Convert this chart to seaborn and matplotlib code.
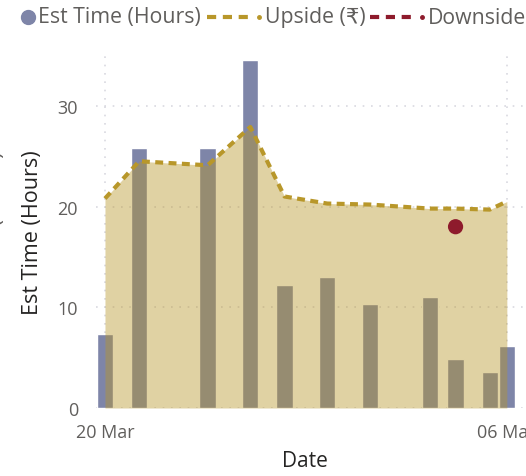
import numpy as np
import pandas as pd
import seaborn as sns
import matplotlib.pyplot as plt
from matplotlib.lines import Line2D

# data (days counted from 20 Mar)
dates = ['20 Mar', '24 Mar', '01 Apr', '06 Apr', '10 Apr', '15 Apr',
         '20 Apr', '27 Apr', '30 Apr', '04 May', '06 May']
day_offset = [0, 4, 12, 17, 21, 26, 31, 38, 41, 45, 47]
est_hours = [7.3, 25.8, 25.8, 34.6, 12.2, 13.0, 10.3, 11.0, 4.9, 3.6, 6.2]
upside = [20.8, 24.5, 24.1, 27.9, 21.0, 20.3, 20.2, 19.8, 19.8, 19.7, 20.5]
downside_day = [41]
downside = [18.0]

tick_days = [0, 47]
tick_labels = ['20 Mar', '06 May']

df = pd.DataFrame({'day': day_offset, 'hours': est_hours, 'upside': upside})

sns.set_theme(style='white')
plt.rcParams['font.family'] = ['Open Sans', 'DejaVu Sans']

bar_col = '#7E85A8'
gold = '#B8972A'
red = '#8E1B2C'
tick_col = '#605E5C'
title_col = '#252423'

W, H = 526, 477
fig = plt.figure(figsize=(W / 100, H / 100), dpi=100)
ax = fig.add_axes([96 / W, 68 / H, 430 / W, 352.5 / H])

# 1. bars for estimated time
sns.barplot(data=df, x='day', y='hours', native_scale=True, width=0.95,
            color=bar_col, saturation=1, ax=ax, zorder=2)

# 2. upside area over the bars
ax.fill_between(df['day'], df['upside'], color=gold, alpha=0.43, lw=0, zorder=3)
sns.lineplot(data=df, x='day', y='upside', color=gold, lw=3.0, ax=ax, zorder=4)
ax.lines[-1].set_dashes([1.9, 1.3])

# 3. downside point
sns.scatterplot(x=downside_day, y=downside, color=red, s=120, ax=ax,
                edgecolor='none', zorder=5)

ax.set_xlim(-1.05, 49.24)
ax.set_ylim(0, 35)
ax.set_xticks(tick_days)
ax.set_xticklabels(tick_labels)
ax.set_yticks([0, 10, 20, 30])
ax.tick_params(axis='both', length=0, labelsize=13, labelcolor=tick_col)
ax.tick_params(axis='y', pad=13)
ax.tick_params(axis='x', pad=11)

ax.grid(True, axis='both', color='#D9D9E0', linestyle=(0, (1, 4)), lw=1.2, zorder=0)
ax.set_axisbelow(True)
sns.despine(ax=ax, left=True, bottom=True)

ax.set_xlabel('Date', fontsize=15, color=title_col)
ax.set_ylabel('Est Time (Hours)', fontsize=15.5, color=title_col)
ax.xaxis.set_label_coords(0.486, -0.118)
ax.yaxis.set_label_coords(-0.123, 0.5)

# clipped secondary axis title at the far left
fig.text(-4 / W, 0.51, 'Est Time (Hours)', rotation=90, ha='center', va='center',
         fontsize=15.5, color=tick_col)

# legend row drawn by hand, Power BI style
ly = 1 - 18 / H
fig.add_artist(Line2D([28 / W], [ly], marker='o', color=bar_col, ls='none',
                      markersize=10, transform=fig.transFigure))
fig.text(38 / W, ly, 'Est Time (Hours)', fontsize=15.3, color=tick_col, va='center')
legend_lines = [(gold, 207, 'Upside (₹)'), (red, 370, 'Downside')]
for col, x0, lab in legend_lines:
    fig.add_artist(Line2D([x0 / W, (x0 + 44) / W], [ly, ly], color=col, lw=3,
                          ls=(0, (2.2, 1.6)), transform=fig.transFigure))
    fig.add_artist(Line2D([(x0 + 52) / W], [ly], marker='o', color=col, ls='none',
                          markersize=2.5, transform=fig.transFigure))
    fig.text((x0 + 58) / W, ly, lab, fontsize=15.3, color=tick_col, va='center')

fig.savefig('out.png', dpi=100)
